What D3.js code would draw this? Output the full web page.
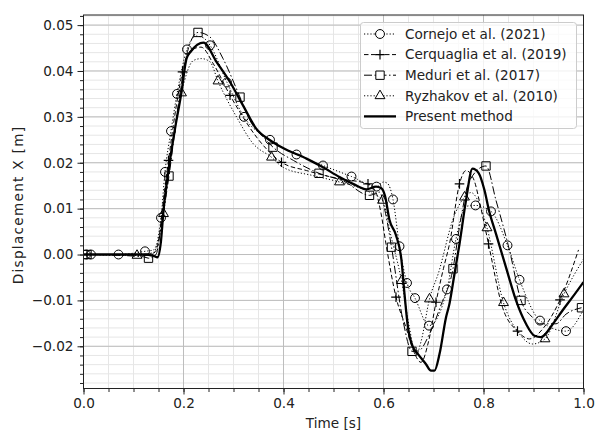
<!DOCTYPE html>
<html>
<head>
<meta charset="utf-8">
<script src="https://cdn.jsdelivr.net/npm/d3@7"></script>
<style>
body { margin: 0; background: #fff; }
svg { font-family: "DejaVu Sans", sans-serif; }
</style>
</head>
<body>
<svg width="596" height="431"></svg>
<script>
// tick labels
var xTicks = [0, 0.2, 0.4, 0.6, 0.8, 1.0];
var yTicks = [-0.02, -0.01, 0, 0.01, 0.02, 0.03, 0.04, 0.05];

// present method (solid curve)
var presentLine = [[0,0],[0.12,0],[0.14,-0.0003],[0.148,-0.0006],[0.155,0.003],[0.16,0.0096],[0.17,0.0183],
  [0.183,0.0274],[0.196,0.0354],[0.206,0.0427],[0.215,0.0443],[0.24,0.0462],[0.266,0.042],[0.293,0.0376],
  [0.319,0.0325],[0.345,0.0275],[0.373,0.0249],[0.399,0.0232],[0.446,0.0209],[0.479,0.019],[0.512,0.0169],
  [0.539,0.0154],[0.566,0.0142],[0.585,0.0148],[0.595,0.0145],[0.603,0.0128],[0.612,0.0075],[0.625,0.0042],
  [0.636,-0.0013],[0.642,-0.0086],[0.649,-0.0159],[0.659,-0.0202],[0.669,-0.0217],[0.685,-0.0239],
  [0.695,-0.0253],[0.702,-0.0253],[0.712,-0.0217],[0.725,-0.0137],[0.732,-0.0107],[0.742,-0.0042],
  [0.752,0.0023],[0.765,0.0118],[0.778,0.0187],[0.79,0.0178],[0.802,0.014],[0.811,0.0096],[0.825,0.0045],
  [0.845,-0.0028],[0.865,-0.01],[0.885,-0.0151],[0.902,-0.0177],[0.915,-0.018],[0.939,-0.0151],
  [0.958,-0.0122],[0.978,-0.0093],[1.0,-0.006]];

// Cornejo et al. (2021)
var cornejoLine = [[0,0],[0.005,0],[0.015,0],[0.07,0],[0.123,0.0007],[0.14,0.001],[0.155,0.008],[0.163,0.018],
  [0.175,0.0269],[0.187,0.035],[0.207,0.0447],[0.225,0.0476],[0.24,0.0472],[0.253,0.0456],[0.287,0.0375],
  [0.321,0.030],[0.373,0.025],[0.426,0.0218],[0.479,0.0194],[0.536,0.017],[0.586,0.0148],[0.6,0.0158],
  [0.608,0.0155],[0.619,0.012],[0.632,0.0018],[0.647,-0.0062],[0.663,-0.0095],[0.691,-0.0155],
  [0.727,-0.0076],[0.745,0.0034],[0.765,0.0105],[0.784,0.0107],[0.815,0.0094],[0.848,0.002],
  [0.872,-0.0055],[0.913,-0.0144],[0.965,-0.0167],[1.0,-0.012]];
var cornejoMarks = [[0.005,0],[0.015,0],[0.07,0],[0.123,0.0007],[0.155,0.008],[0.163,0.018],[0.175,0.0269],
  [0.187,0.035],[0.207,0.0447],[0.253,0.0456],[0.287,0.0375],[0.321,0.030],[0.373,0.025],[0.426,0.0218],
  [0.479,0.0194],[0.536,0.017],[0.586,0.0148],[0.619,0.012],[0.632,0.0018],[0.647,-0.0062],[0.663,-0.0095],
  [0.691,-0.0155],[0.727,-0.0076],[0.745,0.0034],[0.784,0.0107],[0.815,0.0094],[0.848,0.002],
  [0.872,-0.0055],[0.913,-0.0144],[0.965,-0.0167]];

// Cerquaglia et al. (2019)
var cerquagliaLine = [[0,0],[0.13,0],[0.143,0.0005],[0.15,0.003],[0.16,0.012],[0.17,0.0205],[0.185,0.032],
  [0.198,0.0398],[0.215,0.0445],[0.235,0.0452],[0.26,0.0415],[0.293,0.0347],[0.313,0.031],[0.346,0.0256],
  [0.366,0.023],[0.396,0.0201],[0.446,0.0183],[0.512,0.0165],[0.569,0.0154],[0.585,0.0135],[0.595,0.009],
  [0.605,0.0023],[0.625,-0.0093],[0.645,-0.0159],[0.66,-0.021],[0.675,-0.0235],[0.69,-0.019],
  [0.705,-0.0104],[0.72,-0.003],[0.732,0.0023],[0.752,0.0154],[0.765,0.0183],[0.78,0.0165],[0.795,0.01],
  [0.81,0.0023],[0.838,-0.0115],[0.868,-0.0167],[0.892,-0.0184],[0.92,-0.016],[0.953,-0.0099],[0.99,0.001]];
var cerquagliaMarks = [[0.007,0],[0.17,0.0205],[0.198,0.0398],[0.293,0.0347],[0.396,0.0201],[0.569,0.0154],
  [0.625,-0.0093],[0.705,-0.0104],[0.752,0.0154],[0.81,0.0023],[0.868,-0.0167],[0.953,-0.0099]];

// Meduri et al. (2017)
var meduriLine = [[0,0],[0.007,0],[0.12,-0.0005],[0.13,-0.0008],[0.145,0],[0.155,0.006],[0.171,0.0171],
  [0.19,0.033],[0.21,0.045],[0.229,0.0484],[0.253,0.0474],[0.279,0.0427],[0.313,0.0343],[0.333,0.0292],
  [0.363,0.0252],[0.379,0.0234],[0.42,0.0205],[0.471,0.0177],[0.52,0.016],[0.572,0.0129],[0.592,0.0136],
  [0.604,0.009],[0.616,0.0016],[0.639,-0.0144],[0.657,-0.0211],[0.67,-0.021],[0.692,-0.0173],
  [0.715,-0.011],[0.739,-0.0031],[0.752,0.006],[0.772,0.0161],[0.805,0.0193],[0.825,0.0118],
  [0.852,0.0009],[0.875,-0.01],[0.898,-0.0137],[0.912,-0.0151],[0.945,-0.0151],[0.965,-0.013],[0.996,-0.0116]];
var meduriMarks = [[0.007,0],[0.13,-0.0008],[0.171,0.0171],[0.229,0.0484],[0.313,0.0343],[0.379,0.0234],
  [0.471,0.0177],[0.572,0.0129],[0.616,0.0016],[0.657,-0.0211],[0.739,-0.0031],[0.805,0.0193],
  [0.875,-0.01],[0.996,-0.0116]];

// Ryzhakov et al. (2010)
var ryzhakovLine = [[0,0],[0.107,-0.0002],[0.14,0.0005],[0.15,0.003],[0.16,0.0089],[0.175,0.022],
  [0.196,0.0352],[0.22,0.0423],[0.236,0.0427],[0.253,0.042],[0.269,0.0378],[0.306,0.030],[0.339,0.0242],
  [0.376,0.0212],[0.399,0.019],[0.459,0.0172],[0.512,0.0158],[0.572,0.0136],[0.598,0.0118],[0.615,0.004],
  [0.636,-0.0057],[0.652,-0.016],[0.665,-0.022],[0.675,-0.019],[0.692,-0.0097],[0.71,-0.004],[0.74,0.008],
  [0.762,0.0125],[0.775,0.0135],[0.79,0.0115],[0.807,0.0058],[0.84,-0.0105],[0.87,-0.017],[0.898,-0.0195],
  [0.923,-0.0184],[0.961,-0.0086],[1.0,-0.001]];
var ryzhakovMarks = [[0.107,-0.0002],[0.16,0.0089],[0.196,0.0352],[0.269,0.0378],[0.376,0.0212],
  [0.512,0.0158],[0.598,0.0118],[0.636,-0.0057],[0.692,-0.0097],[0.762,0.0125],[0.807,0.0058],
  [0.84,-0.0105],[0.923,-0.0184],[0.961,-0.0086]];

var series = [
  {name: "Cornejo et al. (2021)", line: cornejoLine, marks: cornejoMarks, dash: "1.2,2", lw: 1, marker: "circle"},
  {name: "Cerquaglia et al. (2019)", line: cerquagliaLine, marks: cerquagliaMarks, dash: "4.5,2.5", lw: 1, marker: "plus"},
  {name: "Meduri et al. (2017)", line: meduriLine, marks: meduriMarks, dash: "8,2.5,1.5,2.5", lw: 1, marker: "square"},
  {name: "Ryzhakov et al. (2010)", line: ryzhakovLine, marks: ryzhakovMarks, dash: "1.2,2", lw: 1, marker: "triangle"},
  {name: "Present method", line: presentLine, marks: [], dash: null, lw: 2.3, marker: null}
];

var svg = d3.select("svg"),
    width = +svg.attr("width"),
    height = +svg.attr("height");

var margin = {top: 15, right: 12.5, bottom: 42.5, left: 83.5};

var x = d3.scaleLinear()
    .domain([0, 1])
    .range([margin.left, width - margin.right]);

var y = d3.scaleLinear()
    .domain([-0.0292, 0.0522])
    .range([height - margin.bottom, margin.top]);

var xMinor = d3.range(0, 1.0001, 0.05),
    yMinor = d3.range(-0.028, 0.0521, 0.002);

// grid
var grid = svg.append("g");
grid.selectAll(".xm").data(xMinor).enter().append("line")
    .attr("x1", d => x(d)).attr("x2", d => x(d))
    .attr("y1", y.range()[0]).attr("y2", y.range()[1])
    .attr("stroke", "#e6e6e6");
grid.selectAll(".ym").data(yMinor).enter().append("line")
    .attr("y1", d => y(d)).attr("y2", d => y(d))
    .attr("x1", x.range()[0]).attr("x2", x.range()[1])
    .attr("stroke", "#e6e6e6");
grid.selectAll(".xM").data(xTicks).enter().append("line")
    .attr("x1", d => x(d)).attr("x2", d => x(d))
    .attr("y1", y.range()[0]).attr("y2", y.range()[1])
    .attr("stroke", "#bdbdbd");
grid.selectAll(".yM").data(yTicks).enter().append("line")
    .attr("y1", d => y(d)).attr("y2", d => y(d))
    .attr("x1", x.range()[0]).attr("x2", x.range()[1])
    .attr("stroke", "#bdbdbd");

// data
svg.append("clipPath").attr("id", "clip")
  .append("rect")
    .attr("x", x.range()[0]).attr("y", y.range()[1])
    .attr("width", x.range()[1] - x.range()[0])
    .attr("height", y.range()[0] - y.range()[1]);

var plot = svg.append("g").attr("clip-path", "url(#clip)");

var line = d3.line()
    .x(d => x(d[0]))
    .y(d => y(d[1]))
    .curve(d3.curveMonotoneX);

function markerPath(kind) {
  if (kind == "circle") return d3.symbol(d3.symbolCircle, 62)();
  if (kind == "square") return d3.symbol(d3.symbolSquare, 70)();
  if (kind == "triangle") return d3.symbol(d3.symbolTriangle, 42)();
  if (kind == "plus") return "M-4.8,0H4.8M0,-4.8V4.8";
  return null;
}

series.forEach(s => {
  plot.append("path")
      .attr("d", line(s.line))
      .attr("fill", "none")
      .attr("stroke", "#000")
      .attr("stroke-width", s.lw)
      .attr("stroke-dasharray", s.dash)
      .attr("stroke-linejoin", "round");
  if (s.marker) {
    plot.selectAll(null).data(s.marks).enter().append("path")
        .attr("transform", d => "translate(" + x(d[0]) + "," + y(d[1]) + ")")
        .attr("d", markerPath(s.marker))
        .attr("fill", "none")
        .attr("stroke", "#000")
        .attr("stroke-width", s.marker == "plus" ? 1.2 : 1);
  }
});

// axes
var fs = 13.6;
var xAxis = d3.axisBottom(x).tickValues(xTicks).tickFormat(d3.format(".1f")).tickSize(6).tickPadding(4);
var yAxis = d3.axisLeft(y).tickValues(yTicks).tickFormat(d3.format(".2f")).tickSize(6).tickPadding(4);

var gX = svg.append("g")
    .attr("transform", "translate(0," + y.range()[0] + ")")
    .call(xAxis);
svg.append("g")
    .attr("transform", "translate(0," + y.range()[0] + ")")
    .call(d3.axisBottom(x).tickValues(xMinor).tickFormat("").tickSize(3.5));
var gY = svg.append("g")
    .attr("transform", "translate(" + x.range()[0] + ",0)")
    .call(yAxis);
svg.append("g")
    .attr("transform", "translate(" + x.range()[0] + ",0)")
    .call(d3.axisLeft(y).tickValues(yMinor).tickFormat("").tickSize(3.5));

svg.selectAll(".domain").remove();
svg.selectAll(".tick line").attr("stroke", "#222");
svg.selectAll(".tick text")
    .attr("fill", "#222")
    .style("font-family", "DejaVu Sans")
    .style("font-size", fs + "px");

// frame
svg.append("rect")
    .attr("x", x.range()[0]).attr("y", y.range()[1])
    .attr("width", x.range()[1] - x.range()[0])
    .attr("height", y.range()[0] - y.range()[1])
    .attr("fill", "none")
    .attr("stroke", "#222")
    .attr("stroke-width", 1);

svg.append("text")
    .attr("x", (x.range()[0] + x.range()[1]) / 2)
    .attr("y", 428)
    .attr("text-anchor", "middle")
    .attr("fill", "#222")
    .style("font-size", fs + "px")
    .text("Time [s]");

svg.append("text")
    .attr("transform", "translate(23,205) rotate(-90)")
    .attr("text-anchor", "middle")
    .attr("fill", "#222")
    .style("font-size", fs + "px")
    .style("letter-spacing", "1.3px")
    .text("Displacement X [m]");

// legend
var lg = svg.append("g");
lg.append("rect")
    .attr("x", 360.5).attr("y", 22.5)
    .attr("width", 216).attr("height", 106)
    .attr("rx", 3)
    .attr("fill", "#fff").attr("fill-opacity", 0.8)
    .attr("stroke", "#cccccc");

series.forEach((s, i) => {
  var cy = 34 + i * 20.6;
  lg.append("line")
      .attr("x1", 364).attr("x2", 396)
      .attr("y1", cy).attr("y2", cy)
      .attr("stroke", "#000")
      .attr("stroke-width", s.lw)
      .attr("stroke-dasharray", s.dash);
  if (s.marker) {
    lg.append("path")
        .attr("transform", "translate(380," + cy + ")")
        .attr("d", markerPath(s.marker))
        .attr("fill", "#fff")
        .attr("stroke", "#000")
        .attr("stroke-width", s.marker == "plus" ? 1.2 : 1);
  }
  lg.append("text")
      .attr("x", 405).attr("y", cy)
      .attr("dy", "0.36em")
      .attr("fill", "#222")
      .style("font-size", fs + "px")
      .text(s.name);
});
</script>
</body>
</html>
